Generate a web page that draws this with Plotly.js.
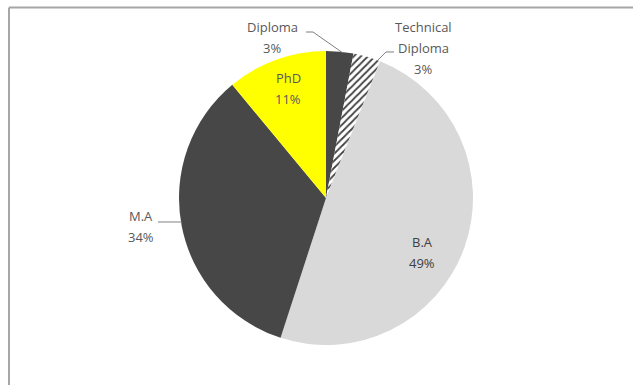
<!DOCTYPE html>
<html>
<head>
<meta charset="utf-8">
<script src="https://cdn.plot.ly/plotly-3.0.1.min.js"></script>
<style>
  html, body { margin: 0; padding: 0; background: #ffffff; }
  #chart { width: 633px; height: 385px; }
</style>
</head>
<body>
<div id="chart"></div>
<script>
// ---- data ----
const labels = ['Diploma', 'Technical Diploma', 'B.A', 'M.A', 'PhD'];
const values = [3, 3, 49, 34, 11];
const colors = ['#474747', '#ffffff', '#d9d9d9', '#474747', '#ffff00'];
const patternShapes = ['', '/', '', '', ''];

// ---- layout config (pixels) ----
const W = 633, H = 385;
const cx = 326, cy = 198, R = 147;
// first-line centre of each label block
const labelAnchors = [
  { x: 272, y: 27 },
  { x: 423, y: 27 },
  { x: 422, y: 242 },
  { x: 141, y: 216 },
  { x: 288, y: 78 }
];
const lineGap = 21;
const labelColors = ['#595959', '#595959', '#404040', '#595959', '#595959'];
// leader lines (pixel paths)
const leaderPaths = [
  'M 306 32 L 313 32 L 343 53',
  null,
  null,
  'M 158 222 L 182 222',
  null
];
const techLeader = 'M 394 52 L 386 52 L 377 61';

const px = x => x / W;
const py = y => 1 - y / H;

const total = values.reduce((a, b) => a + b, 0);

const trace = {
  type: 'pie',
  labels: labels,
  values: values,
  sort: false,
  direction: 'clockwise',
  rotation: 0,
  textinfo: 'none',
  hoverinfo: 'label+percent',
  domain: { x: [px(cx - R), px(cx + R)], y: [py(cy + R), py(cy - R)] },
  marker: {
    colors: colors,
    line: { color: '#ffffff', width: 0 },
    pattern: {
      shape: patternShapes,
      fgcolor: '#404040',
      bgcolor: '#ffffff',
      size: 5,
      solidity: 0.35
    }
  },
  showlegend: false
};

const annotations = [];
labels.forEach((lab, i) => {
  const lines = lab === 'Technical Diploma' ? lab.split(' ') : [lab];
  lines.push(Math.round(values[i] / total * 100) + '%');
  lines.forEach((t, k) => {
    annotations.push({
      xref: 'paper', yref: 'paper',
      x: px(labelAnchors[i].x), y: py(labelAnchors[i].y + k * lineGap),
      xanchor: 'center', yanchor: 'middle',
      text: t, showarrow: false,
      font: { family: 'Open Sans, sans-serif', size: 13, color: labelColors[i] }
    });
  });
});

const shapes = [];
leaderPaths.concat([techLeader]).forEach(p => {
  if (!p) return;
  const conv = p.replace(/(\d+(?:\.\d+)?) (\d+(?:\.\d+)?)/g, (m, a, b) =>
    (px(+a)).toFixed(5) + ',' + (py(+b)).toFixed(5));
  shapes.push({
    type: 'path', xref: 'paper', yref: 'paper', path: conv,
    line: { color: '#7f7f7f', width: 1 }
  });
});
// chart frame (top and left edges visible)
shapes.push({ type: 'line', xref: 'paper', yref: 'paper',
  x0: px(9), x1: 1.01, y0: py(7.5), y1: py(7.5),
  line: { color: '#a6a6a6', width: 2 } });
shapes.push({ type: 'line', xref: 'paper', yref: 'paper',
  x0: px(9), x1: px(9), y0: py(7.5), y1: -0.01,
  line: { color: '#a6a6a6', width: 2 } });

const layout = {
  width: W, height: H,
  margin: { l: 0, r: 0, t: 0, b: 0 },
  paper_bgcolor: '#ffffff',
  plot_bgcolor: '#ffffff',
  annotations: annotations,
  shapes: shapes,
  showlegend: false
};

Plotly.newPlot('chart', [trace], layout, { displayModeBar: false, staticPlot: true });
</script>
</body>
</html>
